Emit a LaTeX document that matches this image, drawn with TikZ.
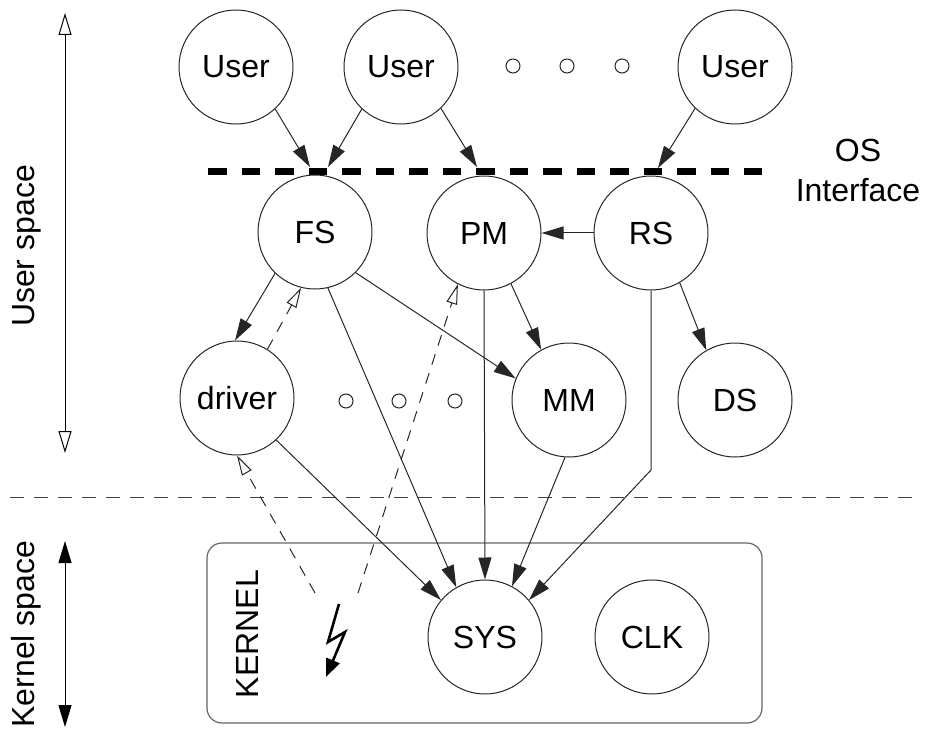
\documentclass[tikz,border=0pt]{standalone}
\usepackage{fontspec}
\setmainfont{Liberation Sans}
\usetikzlibrary{arrows.meta}

\begin{document}
\begin{tikzpicture}[x=1pt,y=-1pt,
  font=\fontsize{32}{40}\selectfont,
  proc/.style={draw=black!85, line width=1pt, circle, minimum size=114pt, inner sep=0pt},
  dotmark/.style={draw=black!85, line width=1pt, circle, minimum size=14pt, inner sep=0pt},
  conn/.style={draw=black!85, line width=1pt, -{Triangle[length=22pt,width=13pt]}},
  dconn/.style={draw=black!85, line width=1pt, dash pattern=on 11pt off 9pt,
                -{Triangle[open,length=20pt,width=11pt]}},
  sidelabel/.style={rotate=90, anchor=base, inner sep=0pt}
]
\useasboundingbox (0,0) rectangle (928,735);

% user processes
\node[proc] (u1) at (236,67) {User};
\node[proc] (u2) at (401,67) {User};
\node[proc] (u3) at (735,67) {User};
\node[dotmark] (du1) at (513,66) {};
\node[dotmark] (du2) at (567,66) {};
\node[dotmark] (du3) at (622,66) {};

% OS interface
\draw[line width=7pt, dash pattern=on 18.5pt off 15pt] (208,172) -- (762,172);
\node[anchor=base, inner sep=0pt] (osa) at (858,162) {OS};
\node[anchor=base, inner sep=0pt] (osb) at (858,202) {Interface};

% servers
\node[proc] (fs) at (315,232) {FS};
\node[proc] (pm) at (484,233) {PM};
\node[proc] (rs) at (651,233) {RS};

% drivers and other servers
\node[proc] (drv) at (237,398) {driver};
\node[proc] (mm) at (569,400) {MM};
\node[proc] (ds) at (735,400) {DS};
\node[dotmark] (dm1) at (346,401) {};
\node[dotmark] (dm2) at (399,401) {};
\node[dotmark] (dm3) at (455,401) {};

% user / kernel boundary
\draw[draw=black!75, line width=1pt, dash pattern=on 14pt off 10pt] (10,497) -- (915,497);

% kernel
\node[draw=black!60, line width=1.2pt, rounded corners=15pt, minimum width=555pt,
      minimum height=180pt, inner sep=0pt] (kbox) at (484.5,633) {};
\node[sidelabel] (klabel) at (258,634) {KERNEL};
\node[proc] (sys) at (485,637) {SYS};
\node[proc] (clk) at (652,637) {CLK};

% interrupt
\coordinate (bolt) at (339,604);
\draw[line width=2.6pt, line join=miter, -{Triangle[length=18pt,width=14pt]}]
  (bolt) -- (328,642) -- (345,632) -- (326,677);

% side axes
\node[sidelabel] (ulabel) at (34,246) {User space};
\node[sidelabel] (klab2) at (34,634) {Kernel space};
\coordinate (ua) at (65,13);
\coordinate (ub) at (65,453);
\coordinate (ka) at (65,541);
\coordinate (kb) at (65,727);
\draw[line width=1pt, {Triangle[open,length=22pt,width=13pt]}-{Triangle[open,length=22pt,width=13pt]}] (ua) -- (ub);
\draw[line width=1pt, {Triangle[length=22pt,width=13pt]}-{Triangle[length=22pt,width=13pt]}] (ka) -- (kb);

% calls through the OS interface
\coordinate (t1) at (310,167);
\coordinate (t2) at (328,167);
\coordinate (t3) at (477,167);
\coordinate (t4) at (658,168);
\draw[conn] (u1.313) -- (t1);
\draw[conn] (u2.227) -- (t2);
\draw[conn] (u2.314) -- (t3);
\draw[conn] (u3.226) -- (t4);

% server interactions
\draw[conn] (rs.west) -- (pm.east);
\draw[conn] (fs.226) -- (drv.92);
\draw[dconn] (drv.58) -- (fs.256);
\draw[conn] (fs.315) -- (mm.158);
\draw[conn] (pm.298) -- (mm.119);
\draw[conn] (rs.300) -- (ds.120);

% kernel calls
\coordinate (rsbend) at (651,470);
\draw[conn] (fs.283) -- (sys.120);
\draw[conn] (pm.south) -- (sys.north);
\draw[conn] (mm.266) -- (sys.62);
\draw[conn] (rs.south) -- (rsbend) -- (sys.40);
\draw[conn] (drv.313) -- (sys.140);

% interrupt notifications
\coordinate (lz1) at (315,593);
\coordinate (lz2) at (358,593);
\draw[dconn] (lz1) -- (drv.270);
\draw[dconn] (lz2) -- (pm.243);
\end{tikzpicture}
\end{document}
